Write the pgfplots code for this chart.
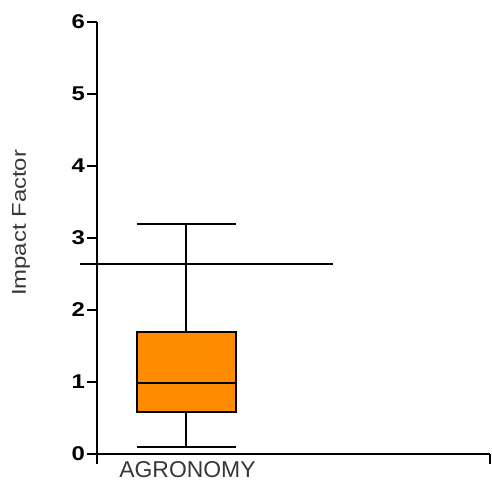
\documentclass[border=0pt]{standalone}
\usepackage{fontspec}
\setmainfont{Liberation Sans}
\newfontfamily\lblfont[FakeStretch=1.2]{Liberation Sans}
\newfontfamily\tickfont[FakeStretch=1.2]{Liberation Sans}
\usepackage{pgfplots}
\pgfplotsset{compat=1.18}
\usetikzlibrary{calc}
\definecolor{boxorange}{RGB}{255,140,0}
\definecolor{txtgray}{RGB}{55,55,55}
\begin{document}
\begin{tikzpicture}
\begin{axis}[
  name=ax,
  scale only axis,
  width=393bp, height=432bp,
  xmin=0, xmax=393, ymin=0, ymax=6,
  axis x line=bottom, axis y line=left,
  axis line style={line width=1.8bp, -},
  clip=false,
  tick align=outside,
  major tick length=10bp,
  every tick/.style={line width=1.8bp, black},
  xtick={0,393}, xticklabels={},
  ytick={0,1,2,3,4,5,6},
  yticklabels={0,1,2,3,4,5,6},
  yticklabel style={font=\fontsize{20}{20}\selectfont\tickfont\bfseries, inner sep=2bp},
  ylabel={Impact Factor},
  ylabel style={font=\fontsize{20}{20}\selectfont\lblfont, text=txtgray, at={(rel axis cs:0,0.535)}, anchor=center, yshift=76bp},
  unbounded coords=jump,
]
% box (Q1 = 0.58, Q3 = 1.69)
\addplot[draw=black, line width=2bp, fill=boxorange, mark=none]
  coordinates {(40,0.58) (139,0.58) (139,1.69) (40,1.69)} -- cycle;
% median
\addplot[black, line width=2bp, mark=none] coordinates {(40,0.98) (139,0.98)};
% whiskers and caps
\addplot[black, line width=2bp, mark=none] coordinates {
  (89.5,0.58) (89.5,0.1) (nan,nan)
  (40,0.1) (139,0.1) (nan,nan)
  (89.5,1.69) (89.5,3.2) (nan,nan)
  (40,3.2) (139,3.2)};
% reference line
\addplot[black, line width=2bp, mark=none] coordinates {(-17,2.64) (236,2.64)};
\node[anchor=north, inner sep=0pt, yshift=-7bp, text=txtgray, font=\fontsize{23}{23}\selectfont] at (axis cs:90.5,0) {AGRONOMY};
\end{axis}
\pgfresetboundingbox
\path[use as bounding box] ($(ax.south west)+(-97bp,-30bp)$) rectangle ($(ax.south west)+(395bp,454bp)$);
\end{tikzpicture}
\end{document}
